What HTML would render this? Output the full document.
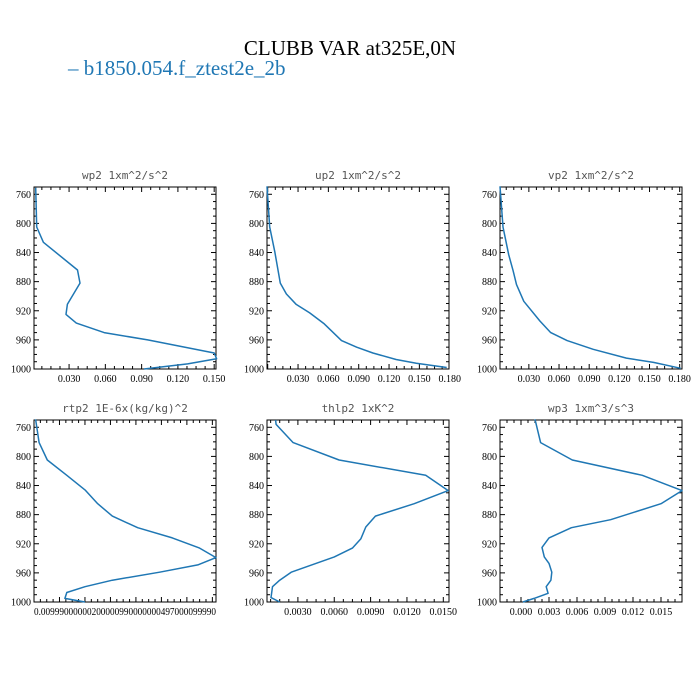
<!DOCTYPE html>
<html><head><meta charset="utf-8"><style>
html,body{margin:0;padding:0;background:#fff;}
svg{display:block;}
</style></head><body>
<svg id="fig" width="700" height="700" viewBox="0 0 700 700" xmlns="http://www.w3.org/2000/svg">
<text x="350" y="55" text-anchor="middle" font-family="Liberation Serif, serif" font-size="21" fill="#000">CLUBB VAR at325E,0N</text>
<text x="68" y="75" font-family="Liberation Serif, serif" font-size="21" fill="#1f77b4">– b1850.054.f_ztest2e_2b</text>
<g id="panels"></g>
</svg>
<script>
// pressure levels (hPa) and values per panel
const wp2P = [751,805,826,864,882,911,925,937,950,960,978,986,993,1000];
const wp2V = [0.0024,0.0032,0.0088,0.037,0.039,0.0286,0.0275,0.036,0.059,0.095,0.150,0.152,0.128,0.092];
const up2P = [749,805,839,882,897,911,923,938,961,970,978,987,992,998];
const up2V = [-0.0007,0.002,0.007,0.0125,0.0185,0.028,0.0415,0.056,0.073,0.088,0.104,0.127,0.147,0.177];
const vp2P = [749,805,843,865,884,907,934,950,961,973,985,991,999];
const vp2V = [0.0013,0.0043,0.010,0.0143,0.0177,0.025,0.041,0.0517,0.068,0.094,0.127,0.154,0.181];
const rtp2P = [749,781,805,826,846,865,882,898,912,926,939,949,959,970,979,987,995,1001];
const rtp2V = [0.009,0.028,0.073,0.18,0.28,0.35,0.43,0.57,0.76,0.91,1.0,0.90,0.69,0.43,0.28,0.18,0.17,0.28];
const thlp2P = [750,756,781,805,826,847,865,882,897,913,926,938,959,970,979,994,1000];
const thlp2V = [0.00116,0.0012,0.0026,0.0064,0.01355,0.0154,0.0126,0.0094,0.0086,0.0082,0.0075,0.0060,0.00245,0.0015,0.0009,0.00078,0.0015];
const wp3P = [749,781,805,826,847,865,887,898,912,925,938,947,959,970,979,988,995,1000];
const wp3V = [0.0015,0.0021,0.0055,0.013,0.01725,0.015,0.0096,0.0054,0.003,0.00225,0.0025,0.003,0.0033,0.0032,0.0027,0.0029,0.0014,0.0002];
const yTicks = [760,800,840,880,920,960,1000];
const wp2Ticks = ["0.030","0.060","0.090","0.120","0.150"];
const up2Ticks = ["0.030","0.060","0.090","0.120","0.150","0.180"];
const vp2Ticks = ["0.030","0.060","0.090","0.120","0.150","0.180"];
const thlp2Ticks = ["0.0030","0.0060","0.0090","0.0120","0.0150"];
const wp3Ticks = ["0.000","0.003","0.006","0.009","0.012","0.015"];

const NS = "http://www.w3.org/2000/svg";
const root = document.getElementById('panels');
function mk(tag, attrs, parent){const e=document.createElementNS(NS,tag);for(const k in attrs)e.setAttribute(k,attrs[k]);parent.appendChild(e);return e;}

const panels = [
 {id:'wp2',title:'wp2  1xm^2/s^2',x:34,y:187,P:wp2P,V:wp2V,xmin:0.001,xmax:0.1515,ticks:wp2Ticks,step:0.030},
 {id:'up2',title:'up2  1xm^2/s^2',x:267,y:187,P:up2P,V:up2V,xmin:-0.0007,xmax:0.1793,ticks:up2Ticks,step:0.030},
 {id:'vp2',title:'vp2  1xm^2/s^2',x:500,y:187,P:vp2P,V:vp2V,xmin:0.0013,xmax:0.1823,ticks:vp2Ticks,step:0.030},
 {id:'rtp2',title:'rtp2  1E-6x(kg/kg)^2',x:34,y:420,P:rtp2P,V:rtp2V,xmin:0,xmax:1,ticks:null,step:0.14},
 {id:'thlp2',title:'thlp2  1xK^2',x:267,y:420,P:thlp2P,V:thlp2V,xmin:0.00045,xmax:0.01547,ticks:thlp2Ticks,step:0.003},
 {id:'wp3',title:'wp3  1xm^3/s^3',x:500,y:420,P:wp3P,V:wp3V,xmin:-0.00225,xmax:0.01725,ticks:wp3Ticks,step:0.003}
];
const W=182,H=182,PMIN=750,PMAX=1000;

panels.forEach(p=>{
  const g=mk('g',{},root);
  
  
  const sx=v=>p.x+(v-p.xmin)/(p.xmax-p.xmin)*W;
  const sy=v=>p.y+(v-PMIN)/(PMAX-PMIN)*H;
  const t=mk('text',{x:p.x+W/2,y:p.y-8,'text-anchor':'middle','font-family':'DejaVu Sans Mono, monospace','font-size':'11',fill:'#555'},g);
  t.textContent=p.title;
  
  
  const fr=mk('rect',{x:p.x,y:p.y,width:W,height:H,fill:'none',stroke:'#000','stroke-width':'1'},g);
  
  
  // y ticks
  for(let v=760;v<=1000;v+=10){
    const yy=sy(v),len=(v%40===0)?5:3;
    mk('line',{x1:p.x,x2:p.x+len,y1:yy,y2:yy,stroke:'#000','stroke-width':'1'},g);
    mk('line',{x1:p.x+W,x2:p.x+W-len,y1:yy,y2:yy,stroke:'#000','stroke-width':'1'},g);
  }
  yTicks.forEach(v=>{
    const l=mk('text',{x:p.x-3,y:sy(v)+3.5,'text-anchor':'end','font-family':'Liberation Serif, serif','font-size':'10',fill:'#000'},g);
    l.textContent=v;
    
    
  });
  // x ticks
  const minor=p.step/4;
  const start=Math.ceil(p.xmin/minor-1e-6);
  for(let i=start;i*minor<=p.xmax+1e-9;i++){
    const v=i*minor,xx=sx(v),len=(i%4===0)?5:3;
    mk('line',{x1:xx,x2:xx,y1:p.y+H,y2:p.y+H-len,stroke:'#000','stroke-width':'1'},g);
    mk('line',{x1:xx,x2:xx,y1:p.y,y2:p.y+len,stroke:'#000','stroke-width':'1'},g);
  }
  if(p.ticks){
    p.ticks.forEach(s=>{
      const v=parseFloat(s);
      const l=mk('text',{x:sx(v),y:p.y+H+13,'text-anchor':'middle','font-family':'Liberation Serif, serif','font-size':'10',fill:'#000'},g);
      l.textContent=s;
      
      
    });
  } else {
    const l=mk('text',{x:p.x,y:p.y+H+13,'font-family':'Liberation Serif, serif','font-size':'10',fill:'#000',textLength:W,lengthAdjust:'spacingAndGlyphs'},g);
    l.textContent='0.00999000000200000990000000497000099990';
    
    
  }
  const pts=p.P.map((pp,i)=>sx(p.V[i]).toFixed(1)+','+sy(Math.min(pp,1000)).toFixed(1)).join(' ');
  const ln=mk('polyline',{points:pts,fill:'none',stroke:'#1f77b4','stroke-width':'1.5','stroke-linejoin':'round'},g);
  
  
});
</script>
</body></html>
